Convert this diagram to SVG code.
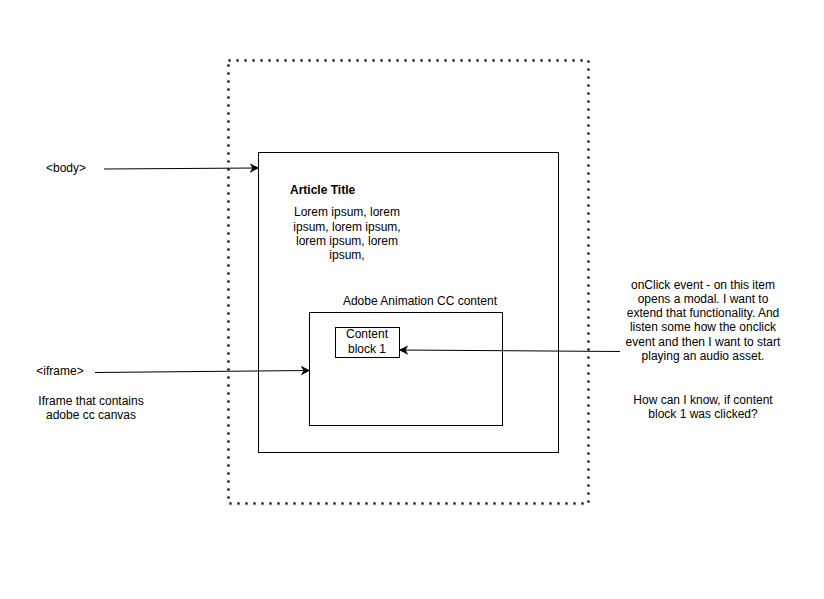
<svg xmlns="http://www.w3.org/2000/svg" width="824" height="599" viewBox="0 0 824 599">
<style>
text{font-family:"Liberation Sans",Arial,sans-serif;font-size:12px;fill:#000}
.c{text-anchor:middle}
.box{fill:#fff;stroke:#000;stroke-width:1}
.ln{fill:none;stroke:#000;stroke-width:1}
</style>
<defs>
<marker id="ah" markerWidth="10" markerHeight="10" refX="8" refY="5" orient="auto" markerUnits="userSpaceOnUse">
<path d="M1,1.5 L8,5 L1,8.5 L3,5 Z" fill="#000" stroke="#000" stroke-width="1"/>
</marker>
</defs>
<rect width="824" height="599" fill="#fff"/>
<g id="page">
<rect x="228.5" y="60.5" width="360" height="443" fill="none" stroke="#000" stroke-width="2.5" stroke-dasharray="2 6"/>
</g>
<g id="body">
<rect class="box" x="258.5" y="152.5" width="300" height="300"/>
</g>
<g id="title">
<text x="290" y="194" font-weight="bold">Article Title</text>
</g>
<g id="lorem">
<text class="c" x="347" y="216">Lorem ipsum, lorem</text>
<text class="c" x="347" y="231">ipsum, lorem ipsum,</text>
<text class="c" x="347" y="245">lorem ipsum, lorem</text>
<text class="c" x="347" y="259">ipsum,</text>
</g>
<g id="iframe">
<text class="c" x="420" y="305">Adobe Animation CC content</text>
<rect class="box" x="309.5" y="312.5" width="193" height="113"/>
</g>
<g id="block1">
<rect class="box" x="335.5" y="327.5" width="64" height="30"/>
<text class="c" x="367" y="338">Content</text>
<text class="c" x="367" y="353">block 1</text>
</g>
<g id="labels">
<text class="c" x="66" y="172">&lt;body&gt;</text>
<text class="c" x="60" y="375">&lt;iframe&gt;</text>
<text class="c" x="91" y="405">Iframe that contains</text>
<text class="c" x="91" y="419">adobe cc canvas</text>
</g>
<g id="note">
<text class="c" x="703" y="289">onClick event - on this item</text>
<text class="c" x="703" y="303">opens a modal. I want to</text>
<text class="c" x="703" y="317">extend that functionality. And</text>
<text class="c" x="703" y="331">listen some how the onclick</text>
<text class="c" x="703" y="346">event and then I want to start</text>
<text class="c" x="703" y="360">playing an audio asset.</text>
<text class="c" x="703" y="404">How can I know, if content</text>
<text class="c" x="703" y="418">block 1 was clicked?</text>
</g>
<g id="connectors">
<line class="ln" x1="104" y1="169" x2="258" y2="168" marker-end="url(#ah)"/>
<line class="ln" x1="95" y1="372.5" x2="309" y2="370.5" marker-end="url(#ah)"/>
<line class="ln" x1="620" y1="351.5" x2="400" y2="350" marker-end="url(#ah)"/>
</g>
</svg>
